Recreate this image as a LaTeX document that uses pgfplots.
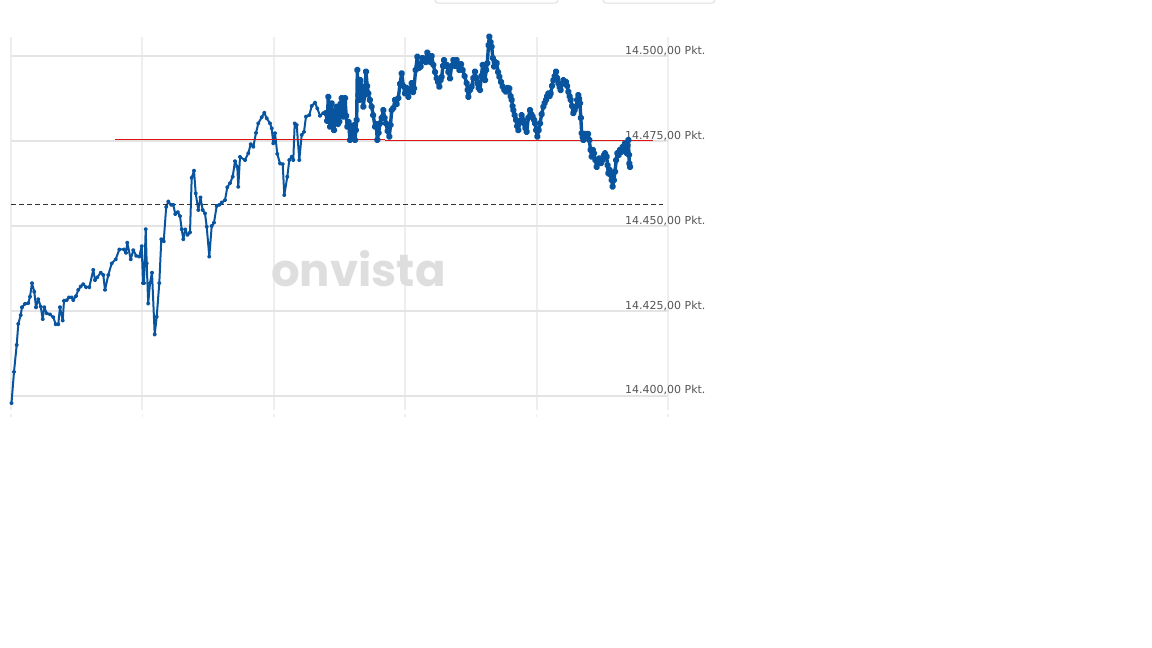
\documentclass[border=0pt]{standalone}
\usepackage{pgfplots}
\pgfplotsset{compat=1.18}
\usepackage{pgfplotstable}
\usepackage{fontspec}
\newfontfamily\labelfont{DejaVu Sans}
\newfontfamily\wmfont{Poppins}

\definecolor{kurs}{RGB}{8,84,159}
\definecolor{gridh}{RGB}{228,228,228}
\definecolor{gridv}{RGB}{238,238,238}
\definecolor{labelgrey}{RGB}{85,85,85}
\definecolor{wmgrey}{RGB}{222,222,222}
\definecolor{reflinie}{RGB}{225,20,20}

% x: Position im Tag (Bildpunkte, Gitter alle 131,4), y: Kurs in Pkt.
\pgfplotstableread{
x y
11.5 14397.9
14 14407.1
16.7 14415.0
18.3 14421.2
20.7 14423.8
22 14426.1
25 14427.1
28.3 14427.3
30 14429.2
32 14433.2
34.3 14430.7
36 14426.1
38.3 14428.5
40.7 14426.3
42.7 14422.6
44.3 14426.1
46.7 14424.3
50 14424.0
53.3 14423.2
55.7 14421.1
58.3 14421.1
60 14426.1
62.7 14422.2
64 14428.0
66.7 14428.2
69 14429.0
71.7 14429.0
73.3 14428.2
76 14429.4
78.3 14431.2
80.7 14432.2
83.3 14432.9
86 14432.0
89.3 14432.0
93.3 14437.1
95 14434.1
97.3 14434.9
100.7 14436.3
103.3 14435.6
105 14431.2
108.3 14435.6
111.7 14439.0
115.7 14440.2
119.3 14443.1
124 14443.1
126 14442.1
127.3 14445.1
130.7 14440.2
133.3 14442.9
136.3 14441.2
139.3 14441.0
141.7 14444.1
143 14433.2
144 14433.2
145.7 14449.1
146.7 14439.0
148.2 14427.2
150 14433.2
152 14436.3
154.7 14418.1
156.7 14423.3
159.3 14433.2
161.3 14446.1
163.7 14445.5
166.2 14455.6
168.3 14457.2
171.2 14456.2
173.3 14456.2
175.3 14453.5
177.8 14454.1
180 14452.9
181.7 14449.0
183.3 14446.1
185.3 14449.0
187.5 14447.4
190 14448.1
191.7 14464.2
194 14466.3
195.7 14459.6
198.3 14454.7
200.5 14458.4
202.7 14454.7
205 14453.7
206.7 14449.8
209.3 14441.0
211.7 14450.0
214 14451.0
216.7 14455.9
219.3 14456.2
221.7 14456.9
225 14457.6
227.3 14461.4
230 14462.6
232.7 14464.5
235 14469.1
237.3 14467.4
238.3 14461.5
240 14470.3
245 14469.4
248.3 14471.4
250.7 14474.1
253.3 14473.3
256 14477.4
258.3 14480.2
261.7 14482.0
264.3 14483.3
266.7 14481.7
270 14480.2
271.7 14478.7
273.3 14474.3
275 14477.3
277.3 14471.2
280 14468.4
282.7 14468.2
284.3 14459.1
287.3 14464.5
289.3 14469.4
291.7 14470.4
293.3 14469.4
294.7 14480.2
296.7 14479.7
299.3 14469.4
301.7 14476.8
304 14477.7
306 14482.2
309.3 14482.6
311.7 14485.3
315 14486.3
317.3 14484.6
320 14482.4
323.3 14483.2
326 14483.2
327.2 14480.9
328.3 14488.0
329.2 14483.5
330 14479.2
330.8 14484.1
331.7 14486.1
332.8 14481.2
334 14478.2
335.2 14483.5
336.7 14485.1
338 14480.0
339.3 14480.7
340.5 14485.9
341.7 14487.6
342.5 14483.5
343.3 14482.2
344.2 14486.5
345 14487.6
346.2 14482.4
347.3 14479.2
348.6 14480.6
350 14475.3
350.8 14477.6
351.7 14475.9
352.5 14479.4
353.3 14477.6
354.2 14479.7
355 14475.3
355.8 14478.2
356.7 14481.2
357.3 14495.9
358.3 14488.5
359.3 14487.1
360.4 14492.9
361.7 14491.0
362.5 14488.2
363.3 14485.1
364.6 14488.5
366 14495.4
367.2 14491.2
368.3 14489.0
369.8 14487.1
371.7 14485.1
373.2 14482.6
375 14479.2
376.2 14480.0
377.3 14475.3
378.6 14477.4
380 14480.2
381.7 14481.8
383.3 14484.1
384.6 14481.8
386 14480.2
387.6 14477.9
389.3 14476.3
390.5 14479.7
391.7 14484.1
393.3 14484.7
395 14487.1
396.6 14485.9
398.3 14487.6
400 14491.8
401.7 14494.9
403.3 14491.2
405 14489.0
406.6 14490.6
408.3 14488.0
410 14490.0
411.7 14492.0
413 14489.4
414 14490.5
415.6 14495.9
417.3 14499.8
419 14496.5
420.7 14496.9
422.3 14499.4
424 14499.3
425.7 14498.2
427.3 14501.0
428.7 14498.8
430 14498.3
431.7 14500.0
433.3 14497.4
435 14495.3
436.7 14493.4
438 14492.4
439.3 14491.0
440.5 14492.9
441.7 14493.9
443 14497.1
444 14498.8
445.3 14497.1
446.7 14497.4
448.3 14495.3
450 14493.4
451.6 14497.1
453.3 14498.8
455 14497.1
456.7 14498.8
458 14497.1
459.3 14495.9
461 14497.6
462.7 14495.9
464.6 14494.1
466.7 14492.0
467.5 14490.0
468.3 14488.0
470 14490.0
471.7 14491.0
473.3 14493.5
475 14495.4
476.2 14493.5
477.3 14492.0
478.6 14490.6
480 14490.0
481.3 14494.1
482.7 14497.4
484 14495.0
485 14492.9
486.2 14495.9
487.3 14497.9
488.5 14503.2
489.3 14505.7
490.5 14504.1
491.7 14502.7
492.8 14499.4
494 14496.9
495.3 14498.2
496.7 14497.9
498 14495.3
499.3 14493.9
501 14492.4
502.7 14491.0
504.3 14490.0
506 14489.5
507.6 14490.6
509.3 14490.5
510.5 14488.2
511.7 14487.1
512.5 14485.3
513.3 14484.1
514.7 14482.6
516 14481.2
517.2 14479.4
518.3 14478.2
520 14480.6
521.7 14482.6
522.8 14481.2
524 14480.2
525.3 14478.8
526.7 14477.7
528.3 14481.8
530 14484.1
531.3 14482.9
532.7 14482.2
534 14481.2
535 14480.2
536.2 14478.2
537.3 14476.3
538.7 14478.2
540 14480.2
541.7 14482.9
543.3 14485.1
544.7 14486.2
546 14487.1
547.2 14488.2
548.3 14489.0
549.5 14488.2
550.7 14489.0
552 14491.2
553.3 14492.9
554.7 14494.1
556 14495.4
557.2 14493.5
558.3 14492.0
559.5 14490.9
560.7 14490.0
562 14491.8
563.3 14492.9
564.6 14492.4
566 14492.4
567.2 14491.2
568.3 14489.5
569.5 14488.2
570.7 14487.1
572 14485.3
573.3 14483.2
574.7 14484.1
576 14485.1
577.2 14487.1
578.3 14488.5
579.2 14487.4
580 14486.1
580.8 14481.8
581.7 14477.3
582.5 14476.2
583.3 14475.3
585 14477.1
586.7 14476.3
588 14477.1
589.3 14475.3
590.5 14472.4
591.7 14470.4
592.8 14472.4
594 14471.4
595.3 14469.4
596.7 14467.4
598 14469.4
599.3 14469.9
601 14468.5
602.7 14469.4
604 14470.9
605 14471.4
606.7 14470.4
607.5 14467.9
608.3 14465.5
609.5 14466.5
610.7 14465.0
611.7 14463.5
612.7 14461.6
613.8 14463.5
615 14466.0
616.2 14469.4
617.3 14471.4
618.6 14470.9
620 14472.4
621.3 14471.8
622.7 14473.3
624 14472.4
625 14474.3
626 14472.4
626.7 14471.4
627.5 14473.8
628.3 14475.3
629 14470.9
629.3 14468.4
630 14467.4
}\kurs

\begin{document}
\begin{tikzpicture}
\useasboundingbox (0,0) rectangle (1152bp,-648bp);
% Auswahlfelder oben (nur Unterkante sichtbar)
\draw[gray!25, line width=1bp, rounded corners=3bp] (435bp,12bp) rectangle (558bp,-3bp);
\draw[gray!25, line width=1bp, rounded corners=3bp] (603bp,12bp) rectangle (715bp,-3bp);
\begin{axis}[
  at={(11bp,-410bp)}, anchor=south west,
  width=657bp, height=373bp, scale only axis,
  xmin=11, xmax=668,
  ymin=14395.88, ymax=14505.59,
  xtick={11,142.4,273.8,405.2,536.6,668},
  xticklabels={},
  ytick={14400,14425,14450,14475,14500},
  yticklabels={{14.400,00 Pkt.},{14.425,00 Pkt.},{14.450,00 Pkt.},{14.475,00 Pkt.},{14.500,00 Pkt.}},
  scaled y ticks=false,
  yticklabel pos=right,
  grid=major,
  x grid style={color=gridv, line width=2bp},
  y grid style={color=gridh, line width=1.5bp},
  axis line style={draw=none},
  major tick length=0pt,
  yticklabel style={font=\labelfont\fontsize{11bp}{13bp}\selectfont, text=labelgrey,
    anchor=base east, inner sep=0pt, xshift=37.7bp, yshift=2bp},
  clip=false,
]
\node[font=\wmfont\bfseries\fontsize{45bp}{46bp}\selectfont, text=wmgrey, anchor=base]
  at (axis cs:358.4,14432.15) {onvista};
% ruhiger Teil am Vormittag
\addplot[kurs, line width=2bp, line join=round, mark=*, mark size=1.1bp,
  mark options={draw=none, fill=kurs}, restrict x to domain=0:326]
  table[x=x, y=y] {\kurs};
% dichter Tick-Verlauf ab Mittag
\addplot[kurs, line width=3.4bp, line join=round, mark=*, mark size=1.8bp,
  mark options={draw=none, fill=kurs}, restrict x to domain=326:700]
  table[x=x, y=y] {\kurs};
\addplot[black!80, line width=1bp, dash pattern=on 5bp off 3bp]
  coordinates {(11,14456.47) (663,14456.47)};
\addplot[reflinie, line width=1bp] coordinates {(115,14475.5) (385,14475.5)};
\addplot[reflinie, line width=1bp] coordinates {(385,14475.2) (653,14475.2)};
\end{axis}
\foreach \x in {11,142.4,273.8,405.2,536.6,668}
  \draw[gridv, line width=1.5bp] (\x bp,-414bp) -- (\x bp,-417bp);
\end{tikzpicture}
\end{document}
